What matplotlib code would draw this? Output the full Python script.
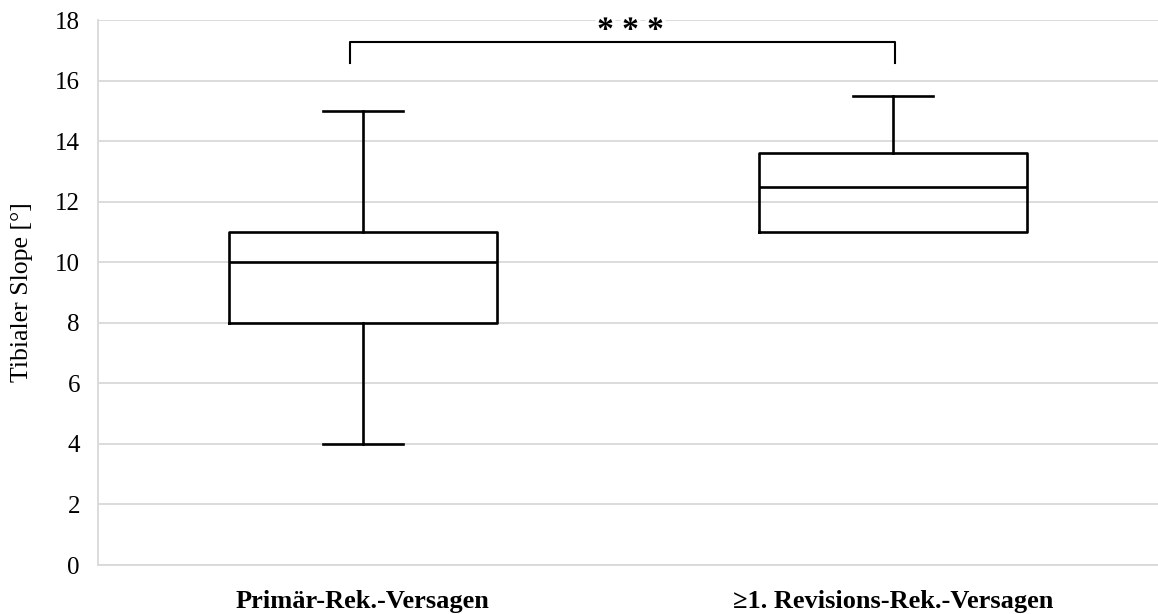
import matplotlib
matplotlib.use("Agg")
import matplotlib.pyplot as plt
import matplotlib.patheffects as pe

# Box-plot summary statistics per group
groups = ["Primär-Rek.-Versagen", "≥1. Revisions-Rek.-Versagen"]
whisker_low = [4.0, 11.0]
quartile_1 = [8.0, 11.0]
medians = [10.0, 12.5]
quartile_3 = [11.0, 13.6]
whisker_high = [15.0, 15.5]

y_ticks = [0, 2, 4, 6, 8, 10, 12, 14, 16, 18]
significance = "* * *"

plt.rcParams["font.family"] = ["Liberation Serif", "DejaVu Serif"]

fig = plt.figure(figsize=(11.58, 6.14), dpi=100)
ax = fig.add_axes([0.0846, 0.0798, 0.9154, 0.8876])

stats = []
for lbl, lo, q1, md, q3, hi in zip(groups, whisker_low, quartile_1, medians,
                                   quartile_3, whisker_high):
    stats.append(dict(label=lbl, whislo=lo, q1=q1, med=md, q3=q3, whishi=hi,
                      fliers=[]))

lw = 1.9
parts = ax.bxp(stats, positions=[0, 1], widths=0.505, showfliers=False,
               boxprops=dict(color="black", linewidth=lw),
               medianprops=dict(color="black", linewidth=lw),
               whiskerprops=dict(color="black", linewidth=lw),
               capprops=dict(color="black", linewidth=lw),
               capwidths=0.15, zorder=3)

# No cap where the lower whisker coincides with the box edge
for i, (lo, q1) in enumerate(zip(whisker_low, quartile_1)):
    if lo == q1:
        parts["caps"][2 * i].set_visible(False)
        parts["whiskers"][2 * i].set_visible(False)

ax.set_xlim(-0.5, 1.5)
ax.set_ylim(0, 18)
ax.set_yticks(y_ticks)
ax.set_yticklabels([str(t) for t in y_ticks], fontsize=18)
ax.set_xticks([0, 1])
ax.set_xticklabels(groups, fontsize=19, fontweight="bold")
ax.tick_params(axis="both", length=0)
ax.tick_params(axis="y", pad=13)
ax.tick_params(axis="x", pad=18)

ax.grid(axis="y", color="#d9d9d9", linewidth=1.3, zorder=0)
ax.set_axisbelow(True)
for side in ["top", "right"]:
    ax.spines[side].set_visible(False)
for side in ["left", "bottom"]:
    ax.spines[side].set_color("#d9d9d9")
    ax.spines[side].set_linewidth(1.3)

ax.set_ylabel("Tibialer Slope [°]", fontsize=18.5, labelpad=16)

# Significance bracket between the two groups
x_left, x_right = -0.025, 1.004
y_bar, y_leg = 17.27, 16.58
ax.plot([x_left, x_left, x_right, x_right], [y_leg, y_bar, y_bar, y_leg],
        color="black", linewidth=1.5, zorder=4, clip_on=False)
ax.text(0.505, 17.36, significance, ha="center", va="baseline", fontsize=24,
        fontweight="bold", zorder=5, clip_on=False,
        path_effects=[pe.withStroke(linewidth=5, foreground="white")])

fig.savefig("out.png", dpi=100)
